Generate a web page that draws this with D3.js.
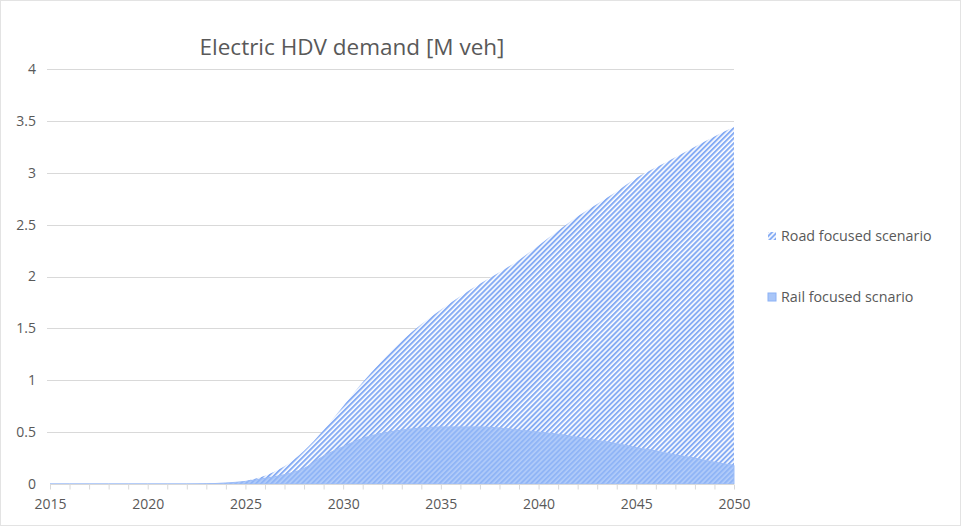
<!DOCTYPE html>
<html>
<head>
<meta charset="utf-8">
<script src="https://cdn.jsdelivr.net/npm/d3@7"></script>
<style>
  body { margin: 0; background: #fff; }
  text { font-family: "Open Sans", "Noto Sans", sans-serif; fill: #595959; }
</style>
</head>
<body>
<div id="chart"></div>
<script>
'use strict';

var years = d3.range(2015, 2051);
var roadValues = [0, 0, 0, 0, 0, 0, 0, 0, 0.002, 0.01, 0.03, 0.08, 0.17, 0.32, 0.52, 0.75,
  0.98, 1.19, 1.38, 1.54, 1.68, 1.81, 1.93, 2.04, 2.16, 2.3, 2.44, 2.58, 2.7, 2.82, 2.95,
  3.05, 3.15, 3.25, 3.35, 3.44];
var railValues = [0, 0, 0, 0, 0, 0, 0, 0, 0.002, 0.01, 0.025, 0.055, 0.09, 0.15, 0.27, 0.36,
  0.44, 0.49, 0.52, 0.54, 0.55, 0.55, 0.55, 0.54, 0.52, 0.5, 0.48, 0.45, 0.42, 0.39, 0.35,
  0.32, 0.28, 0.25, 0.21, 0.18];
var yTicks = [0, 0.5, 1, 1.5, 2, 2.5, 3, 3.5, 4];
var xLabels = [2015, 2020, 2025, 2030, 2035, 2040, 2045, 2050];
var seriesNames = ['Road focused scenario', 'Rail focused scnario'];
var chartTitle = 'Electric HDV demand [M veh]';

var W = 961, H = 526;
var plot = {left: 50, right: 734, top: 69, bottom: 484};

var svg = d3.select('#chart').append('svg')
  .attr('width', W)
  .attr('height', H);

// stripe pattern for the road series
var defs = svg.append('defs');
var pat = defs.append('pattern')
  .attr('id', 'hatch')
  .attr('patternUnits', 'userSpaceOnUse')
  .attr('width', 3.6)
  .attr('height', 3.6)
  .attr('patternTransform', 'rotate(45)');
pat.append('rect').attr('width', 3.6).attr('height', 3.6).attr('fill', '#ffffff');
pat.append('rect').attr('width', 2).attr('height', 3.6).attr('fill', '#86acf4');

// chart border
svg.append('rect')
  .attr('x', 0.5).attr('y', 0.5)
  .attr('width', W - 1).attr('height', H - 1)
  .attr('fill', 'none')
  .attr('stroke', '#e3e3e3');

var x = d3.scaleLinear().domain([2015, 2050]).range([plot.left, plot.right]);
var y = d3.scaleLinear().domain([0, 4]).range([plot.bottom, plot.top]);

// gridlines
svg.append('g').selectAll('line')
  .data(yTicks.filter(function(d) { return d > 0; }))
  .enter().append('line')
  .attr('x1', plot.left - 3).attr('x2', plot.right)
  .attr('y1', function(d) { return Math.round(y(d)) + 0.5; })
  .attr('y2', function(d) { return Math.round(y(d)) + 0.5; })
  .attr('stroke', '#d9d9d9')
  .attr('stroke-width', 1);

// y labels
svg.append('g').selectAll('text')
  .data(yTicks)
  .enter().append('text')
  .attr('x', 36)
  .attr('y', function(d) { return y(d); })
  .attr('dy', '0.35em')
  .attr('text-anchor', 'end')
  .attr('font-size', 14)
  .text(function(d) { return d; });

var roadData = years.map(function(yr, i) { return {year: yr, v: roadValues[i]}; });
var railData = years.map(function(yr, i) { return {year: yr, v: railValues[i]}; });

var area = d3.area()
  .curve(d3.curveMonotoneX)
  .x(function(d) { return x(d.year); })
  .y0(y(0))
  .y1(function(d) { return y(d.v); });

svg.append('path')
  .datum(roadData)
  .attr('d', area)
  .attr('fill', 'url(#hatch)');

svg.append('path')
  .datum(railData)
  .attr('d', area)
  .attr('fill', '#94b8f7')
  .attr('fill-opacity', 0.72)
  .attr('stroke', '#9dbdf7')
  .attr('stroke-width', 1);

// x axis
var xAxis = svg.append('g')
  .attr('transform', 'translate(0,' + (plot.bottom + 0.5) + ')')
  .call(d3.axisBottom(x)
    .tickValues(years)
    .tickSize(5)
    .tickFormat(function(d) { return xLabels.indexOf(d) >= 0 ? d : ''; }));
xAxis.select('.domain').attr('stroke', '#d9d9d9').attr('d', 'M' + plot.left + ',0H' + plot.right);
xAxis.selectAll('.tick line').attr('stroke', '#d9d9d9');
xAxis.selectAll('.tick text')
  .attr('font-size', 14)
  .attr('y', 15)
  .style('font-family', '"Open Sans", "Noto Sans", sans-serif')
  .style('fill', '#595959');

// title
svg.append('text')
  .attr('x', 352)
  .attr('y', 55)
  .attr('text-anchor', 'middle')
  .attr('font-size', 22.5)
  .text(chartTitle);

// legend
var legend = svg.append('g');
var legendY = [236, 297];
legend.selectAll('rect')
  .data(seriesNames)
  .enter().append('rect')
  .attr('x', 768)
  .attr('y', function(d, i) { return legendY[i] - 4; })
  .attr('width', 8).attr('height', 8)
  .attr('fill', function(d, i) { return i === 0 ? 'url(#hatch)' : '#a9c6f8'; })
  .attr('stroke', function(d, i) { return i === 0 ? 'none' : '#8cb2f6'; });
legend.selectAll('text')
  .data(seriesNames)
  .enter().append('text')
  .attr('x', 781)
  .attr('y', function(d, i) { return legendY[i]; })
  .attr('dy', '0.35em')
  .attr('font-size', 14.3)
  .text(function(d) { return d; });
</script>
</body>
</html>
